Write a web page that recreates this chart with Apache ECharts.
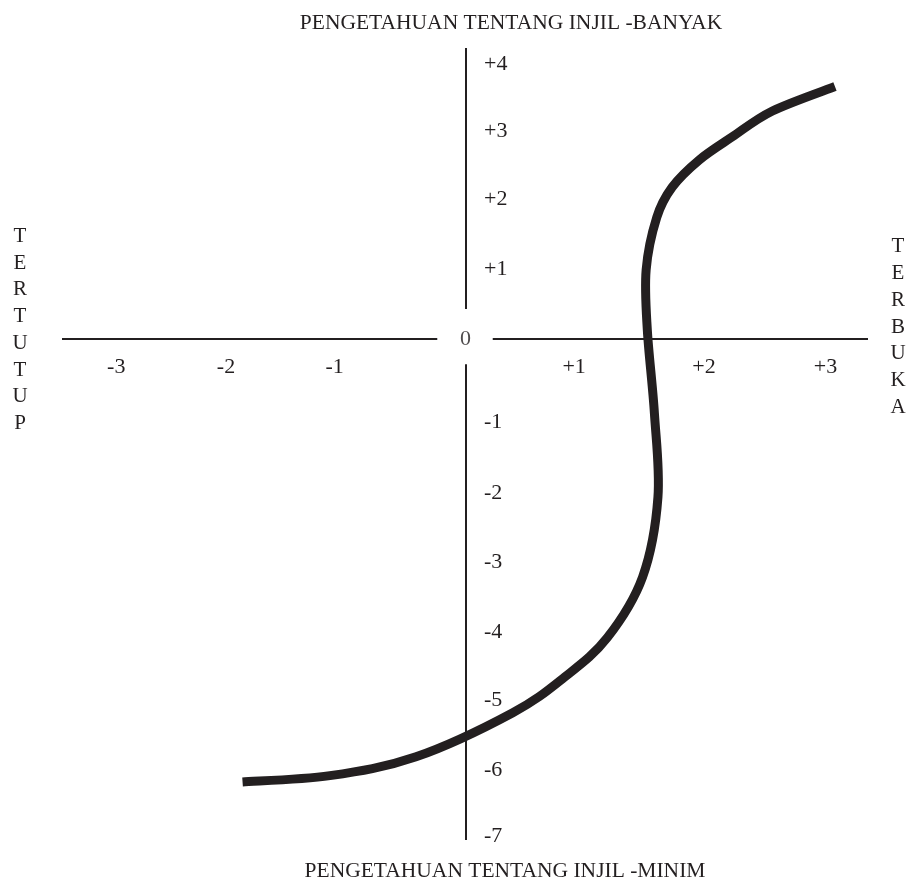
<!DOCTYPE html>
<html>
<head>
<meta charset="utf-8">
<title>Pengetahuan tentang Injil</title>
<script src="https://cdn.jsdelivr.net/npm/echarts@6/dist/echarts.min.js"></script>
<style>
  html, body { margin: 0; padding: 0; background: #fff; }
  #chart { width: 907px; height: 885px; }
</style>
</head>
<body>
<div id="chart"></div>
<script>
// axis ranges (diagram units)
var xMin = -3.42, xMax = 3.41;
var yMin = -7.16, yMax = 4.16;

// tick labels and where they sit on the axes
var xTickText = ['-3', '-2', '-1', '+1', '+2', '+3'];
var xTickAt = [-2.96, -2.03, -1.11, 0.92, 2.02, 3.05];
var yTickText = ['+4', '+3', '+2', '+1', '-1', '-2', '-3', '-4', '-5', '-6', '-7'];
var yTickAt = [3.93, 2.97, 2.0, 1.0, -1.19, -2.2, -3.19, -4.19, -5.16, -6.16, -7.11];

// the S curve, lower-left end to upper-right end
var curveX = [-1.89, -1.15, -0.42, 0.40, 0.84, 1.20, 1.50, 1.63, 1.60, 1.54, 1.53, 1.62, 1.75, 1.98, 2.26, 2.60, 3.13];
var curveY = [-6.33, -6.24, -5.97, -5.34, -4.83, -4.27, -3.40, -2.26, -1.06, 0.13, 0.99, 1.74, 2.17, 2.56, 2.89, 3.26, 3.61];

// axis lines, broken around the 0
var axisSegs = [
  [[xMin, 0], [-0.24, 0]],
  [[0.23, 0], [xMax, 0]],
  [[0, yMax], [0, 0.43]],
  [[0, -0.36], [0, yMin]]
];

var ink = '#231f20';
var serif = '"Liberation Serif", "DejaVu Serif", serif';

var curveData = curveX.map(function (x, i) { return [x, curveY[i]]; });

// whole curve as one smooth path (catmull-rom through the points)
function renderCurve(params, api) {
  if (params.dataIndex !== 0) return;
  var p = curveData.map(function (d) { return api.coord(d); });
  var n = p.length;
  var d = 'M' + p[0][0] + ' ' + p[0][1];
  for (var i = 0; i < n - 1; i++) {
    var p0 = p[Math.max(i - 1, 0)], p1 = p[i], p2 = p[i + 1], p3 = p[Math.min(i + 2, n - 1)];
    var c1x = p1[0] + (p2[0] - p0[0]) / 6, c1y = p1[1] + (p2[1] - p0[1]) / 6;
    var c2x = p2[0] - (p3[0] - p1[0]) / 6, c2y = p2[1] - (p3[1] - p1[1]) / 6;
    d += ' C' + c1x + ' ' + c1y + ' ' + c2x + ' ' + c2y + ' ' + p2[0] + ' ' + p2[1];
  }
  return {
    type: 'path',
    shape: { pathData: d },
    style: { fill: 'none', stroke: ink, lineWidth: 9, lineCap: 'butt', lineJoin: 'round' }
  };
}

var chart = echarts.init(document.getElementById('chart'));
chart.setOption({
  animation: false,
  grid: { left: 62, right: 39, top: 48, bottom: 45 },
  xAxis: {
    type: 'value',
    min: xMin,
    max: xMax,
    // move the label row up to the zero line
    offset: -501,
    axisLine: { show: false, onZero: false },
    axisTick: { show: false },
    splitLine: { show: false },
    axisLabel: {
      customValues: xTickAt,
      margin: 17,
      color: ink,
      fontFamily: serif,
      fontSize: 22,
      formatter: function (v) { return xTickText[xTickAt.indexOf(v)]; }
    }
  },
  yAxis: {
    type: 'value',
    min: yMin,
    max: yMax,
    // move the label column over to the zero line
    offset: -404,
    axisLine: { show: false, onZero: false },
    axisTick: { show: false },
    splitLine: { show: false },
    axisLabel: {
      inside: true,
      customValues: yTickAt,
      margin: 18,
      color: ink,
      fontFamily: serif,
      fontSize: 22,
      formatter: function (v) { return yTickText[yTickAt.indexOf(v)]; }
    }
  },
  graphic: [
    {
      type: 'text', x: 511, y: 23,
      style: { text: 'PENGETAHUAN TENTANG INJIL -BANYAK', font: '21.5px ' + serif, fill: ink,
        align: 'center', verticalAlign: 'middle', textAlign: 'center', textVerticalAlign: 'middle' }
    },
    {
      type: 'text', x: 505, y: 871,
      style: { text: 'PENGETAHUAN TENTANG INJIL -MINIM', font: '21.5px ' + serif, fill: ink,
        align: 'center', verticalAlign: 'middle', textAlign: 'center', textVerticalAlign: 'middle' }
    },
    {
      type: 'text', x: 20, y: 330,
      style: { text: 'TERTUTUP'.split('').join('\n'), font: '21px ' + serif, fill: ink, lineHeight: 26.7,
        align: 'center', verticalAlign: 'middle', textAlign: 'center', textVerticalAlign: 'middle' }
    },
    {
      type: 'text', x: 898, y: 327,
      style: { text: 'TERBUKA'.split('').join('\n'), font: '21px ' + serif, fill: ink, lineHeight: 26.7,
        align: 'center', verticalAlign: 'middle', textAlign: 'center', textVerticalAlign: 'middle' }
    }
  ],
  series: [
    {
      type: 'lines',
      coordinateSystem: 'cartesian2d',
      silent: true,
      lineStyle: { color: ink, width: 2, opacity: 1 },
      data: axisSegs.map(function (c) { return { coords: c }; })
    },
    {
      type: 'scatter',
      silent: true,
      symbolSize: 1,
      itemStyle: { color: 'rgba(0,0,0,0)' },
      label: { show: true, position: 'inside', formatter: '0', color: ink, fontFamily: serif, fontSize: 22 },
      data: [[0, 0]]
    },
    {
      type: 'custom',
      silent: true,
      renderItem: renderCurve,
      encode: { x: 0, y: 1 },
      data: curveData
    }
  ]
});
</script>
</body>
</html>
